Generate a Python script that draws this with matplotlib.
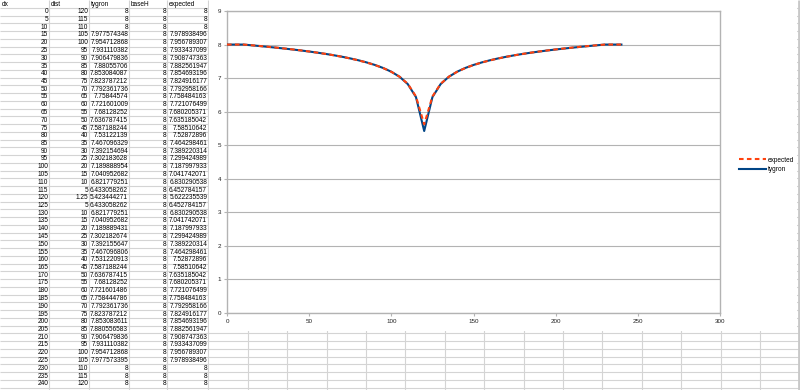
#!/usr/bin/env python3
"""
Spreadsheet view: tygron vs expected water height, table plus line chart
"""

import numpy as np
import matplotlib
matplotlib.use('Agg')
import matplotlib.pyplot as plt
from matplotlib.patches import Rectangle

plt.rcParams['font.family'] = ['Liberation Sans', 'DejaVu Sans']

# table data
headers = ['dx', 'dist', 'tygron', 'baseH', 'expected']
dx = list(range(0, 245, 5))
dist = [120, 115, 110, 105, 100, 95, 90, 85, 80, 75, 70, 65, 60, 55, 50, 45, 40,
        35, 30, 25, 20, 15, 10, 5, 1.25, 5, 10, 15, 20, 25, 30, 35, 40, 45, 50,
        55, 60, 65, 70, 75, 80, 85, 90, 95, 100, 105, 110, 115, 120]
tygron = [8, 8, 8, 7.977574348, 7.954712868, 7.931110382, 7.906479836,
          7.88055706, 7.853084087, 7.823787212, 7.792361736, 7.75844574,
          7.721601009, 7.68128252, 7.636787415, 7.587188244, 7.53122139,
          7.467096329, 7.392154694, 7.302183628, 7.189888954, 7.040952682,
          6.821779251, 6.433058262, 5.423444271, 6.433058262, 6.821779251,
          7.040952682, 7.189889431, 7.302182674, 7.392155647, 7.467096806,
          7.531220913, 7.587188244, 7.636787415, 7.68128252, 7.721601486,
          7.758444786, 7.792361736, 7.823787212, 7.853083611, 7.880556583,
          7.906479836, 7.931110382, 7.954712868, 7.977573395, 8, 8, 8]
baseH = [8] * 49
expected = [8, 8, 8, 7.978938496, 7.956789307, 7.933437099, 7.908747363,
            7.882561947, 7.854693196, 7.824916177, 7.792958166, 7.758484163,
            7.721076499, 7.680205371, 7.635185042, 7.58510642, 7.52872896,
            7.464298461, 7.389220314, 7.299424989, 7.187997933, 7.041742071,
            6.830290538, 6.452784157, 5.622235539, 6.452784157, 6.830290538,
            7.041742071, 7.187997933, 7.299424989, 7.389220314, 7.464298461,
            7.52872896, 7.58510642, 7.635185042, 7.680205371, 7.721076499,
            7.758484163, 7.792958166, 7.824916177, 7.854693196, 7.882561947,
            7.908747363, 7.933437099, 7.956789307, 7.978938496, 8, 8, 8]

x_ticks = [0, 50, 100, 150, 200, 250, 300]
y_ticks = list(range(0, 10))


def fmt(v):
    if float(v).is_integer():
        return str(int(v))
    return repr(float(v))


fig = plt.figure(figsize=(8, 3.9), dpi=100)

# background sheet in pixel coordinates
bg = fig.add_axes([0, 0, 1, 1])
bg.set_xlim(0, 800)
bg.set_ylim(390, 0)
bg.axis('off')

grid_c = '#d4d4d4'
col_edges = [0, 49.3, 89.3, 129.3, 167.3, 208.3]
row_h = 7.75
row_top = 0.1
n_rows = len(dx) + 1

# sheet grid lines (columns continue under and right of the chart)
sheet_cols = list(col_edges[1:]) + [208.3 + 39.4 * k for k in range(1, 15)]
for xc in sheet_cols:
    bg.vlines(xc, 0, 390, color=grid_c, lw=0.8)
for r in range(n_rows + 1):
    yr = row_top + 8 - 0.25 + row_h * r - 0.0
    bg.hlines(yr, 0, 800, color=grid_c, lw=0.8)

# chart object covers part of the sheet
bg.add_patch(Rectangle((209, 0), 588, 331, facecolor='white', edgecolor='none', zorder=3))
bg.vlines(798.5, 0, 390, color='#c8c8c8', lw=2, zorder=4)

# table text
fs = 4.7
for j, h in enumerate(headers):
    bg.text(col_edges[j] + 1.5, 4, h, fontsize=fs, va='center', ha='left', zorder=5)
columns = [dx, dist, tygron, baseH, expected]
for i in range(len(dx)):
    yc = 4 + row_h * (i + 1)
    for j, col in enumerate(columns):
        bg.text(col_edges[j + 1] - 1.2, yc, fmt(col[i]), fontsize=fs,
                va='center', ha='right', zorder=5)

# chart
ax = fig.add_axes([227 / 800, 1 - 313 / 390, 493 / 800, 302 / 390])
ax.set_facecolor('white')
ax.set_zorder(6)
axis_c = '#b3b3b3'
l_ty, = ax.plot(dx, tygron, color='#004586', lw=1.5, label='tygron', zorder=3)
l_ex, = ax.plot(dx, expected, color='#ff420e', lw=1.5, linestyle=(0, (2.2, 1.6)),
                label='expected', zorder=4)
ax.set_xlim(0, 300)
ax.set_ylim(0, 9)
ax.set_xticks(x_ticks)
ax.set_yticks(y_ticks)
ax.grid(True, axis='y', color=axis_c, lw=0.8)
ax.set_axisbelow(True)
for s in ax.spines.values():
    s.set_color(axis_c)
    s.set_linewidth(1.0)
ax.tick_params(colors=axis_c, labelcolor='#222222', labelsize=4.5,
               length=2.5, width=0.8, pad=1.5)

fig.legend([l_ex, l_ty], ['expected', 'tygron'], loc='center left',
           bbox_to_anchor=(736 / 800, 1 - 165 / 390), frameon=False,
           fontsize=4.7, handlelength=4.2, handletextpad=0.3, labelspacing=0.4,
           borderaxespad=0)

fig.savefig('out.png', dpi=100)
plt.close(fig)
